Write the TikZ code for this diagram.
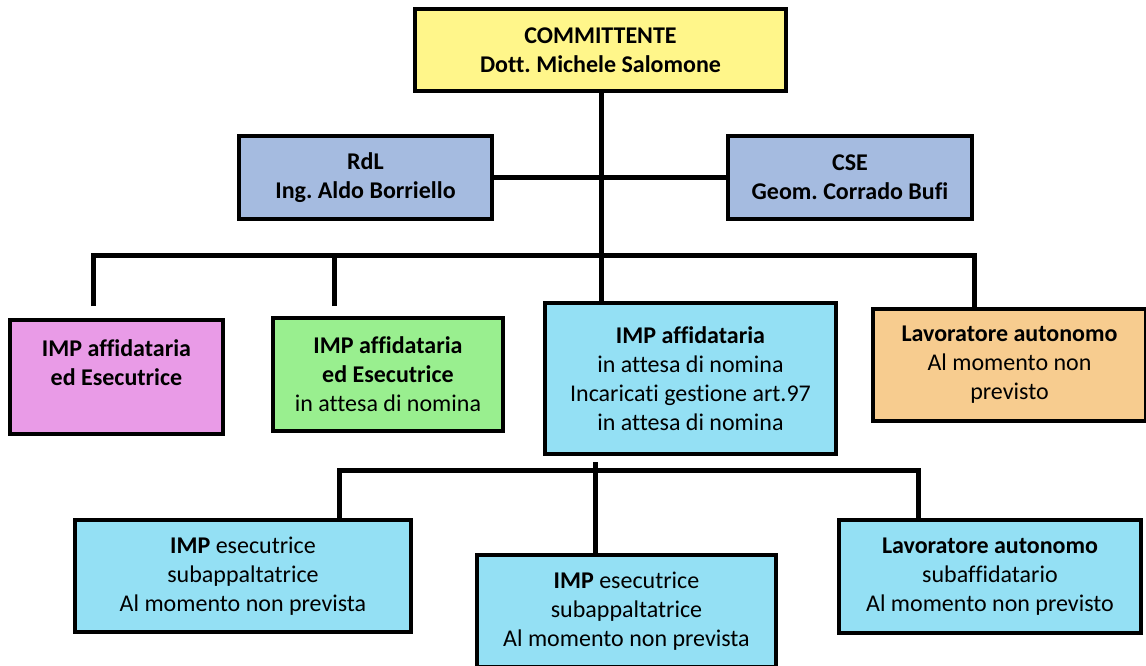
\documentclass[tikz,border=0pt]{standalone}
\usepackage{fontspec}
\setmainfont{Carlito}[Ligatures=NoCommon]
\frenchspacing
\usetikzlibrary{positioning}
\definecolor{commyellow}{HTML}{FFF68A}
\definecolor{staffblue}{HTML}{A5BBE0}
\definecolor{impmagenta}{HTML}{E99BE7}
\definecolor{impgreen}{HTML}{99EF8F}
\definecolor{impcyan}{HTML}{94E0F4}
\definecolor{lavorange}{HTML}{F7CC8F}
\tikzset{box/.style={draw=black,line width=4pt,align=center,inner sep=0pt,
           font=\fontsize{24}{29}\selectfont},
         link/.style={line width=5pt}}

\begin{document}
\begin{tikzpicture}[x=1pt,y=-1pt]
              \useasboundingbox (0,0) rectangle (1146,666);

              \node[box,fill=commyellow,minimum width=371pt,minimum height=82pt] (comm) at (600.5,50)
                {\textbf{COMMITTENTE}\\\textbf{Dott. Michele Salomone}};

              \node[box,fill=staffblue,minimum width=253pt,minimum height=83pt] (rdl) at (365.5,177.5)
                {\textbf{RdL}\\\textbf{Ing. Aldo Borriello}};
              \node[box,fill=staffblue,minimum width=244pt,minimum height=83pt] (cse) at (850,177.5)
                {\textbf{CSE}\\\textbf{Geom. Corrado Bufi}};

              \node[box,fill=impmagenta,minimum width=213pt,minimum height=114pt] (impa) at (116.5,377)
                {\textbf{IMP affidataria}\\\textbf{ed Esecutrice}\\~};
              \node[box,fill=impgreen,minimum width=230pt,minimum height=113pt] (impb) at (388,374.5)
                {\textbf{IMP affidataria}\\\textbf{ed Esecutrice}\\in attesa di nomina};
              \node[box,fill=impcyan,minimum width=291pt,minimum height=151pt] (impc) at (690.5,378.5)
                {\textbf{IMP affidataria}\\in attesa di nomina\\Incaricati gestione art.97\\in attesa di nomina};
              \node[box,fill=lavorange,minimum width=273pt,minimum height=112pt] (lav) at (1009.5,365)
                {\textbf{Lavoratore autonomo}\\Al momento non\\previsto};

              \node[box,fill=impcyan,minimum width=336pt,minimum height=112pt] (suba) at (243,576)
                {\textbf{IMP} esecutrice\\subappaltatrice\\Al momento non prevista};
              \node[box,fill=impcyan,minimum width=299pt,minimum height=112pt] (subb) at (626.5,611)
                {\textbf{IMP} esecutrice\\subappaltatrice\\Al momento non prevista};
              \node[box,fill=impcyan,minimum width=302pt,minimum height=113pt] (subc) at (990,576.5)
                {\textbf{Lavoratore autonomo}\\subaffidatario\\Al momento non previsto};

              % bus points
              \coordinate (trunk) at (601,255);
              \coordinate (busl) at (93,255);
              \coordinate (busg) at (334,255);
              \coordinate (busr) at (974,255);
              \coordinate (subtrunk) at (595,470);
              \coordinate (subl) at (339,470);
              \coordinate (subr) at (918,470);

              \draw[link] (comm.south -| trunk) -- (impc.north -| trunk);
              \draw[link] (rdl.east) -- (cse.west);

              \draw[link,shorten <=12pt] (impa.north -| busl) -- (busl) -- (busr) -- (lav.north -| busr);
              \draw[link,shorten <=10pt] (impb.north -| busg) -- (busg);

              \draw[link,shorten >=6pt] (subb.north -| subtrunk) -- (impc.south -| subtrunk);
              \draw[link] (suba.north -| subl) -- (subl) -- (subr) -- (subc.north -| subr);
            \end{tikzpicture}
\end{document}
